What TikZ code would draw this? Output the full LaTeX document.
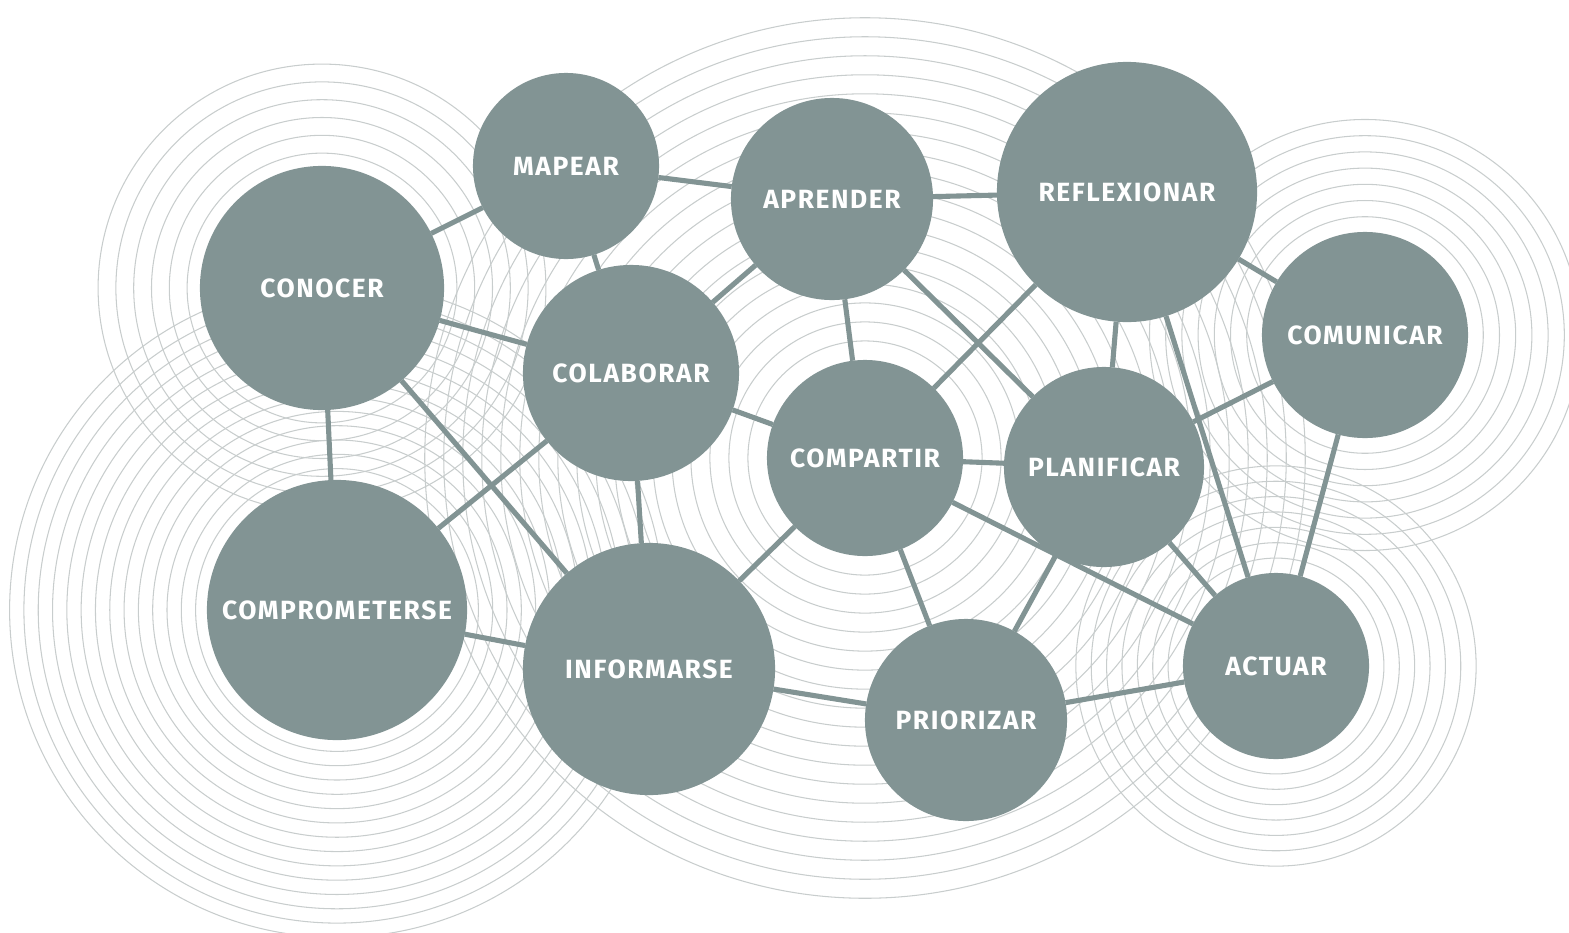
\documentclass[tikz,border=0pt]{standalone}
\usepackage{fontspec}
\setmainfont{Fira Sans}[LetterSpace=6]
\usetikzlibrary{backgrounds}
\definecolor{nodegrey}{RGB}{130,148,148}
\definecolor{ringgrey}{RGB}{200,205,205}
\tikzset{
	concept/.style={circle, fill=nodegrey, text=white, inner sep=0pt, outer sep=0pt,
		font=\bfseries\fontsize{7.5}{8}\selectfont},
	link/.style={draw=nodegrey, line width=1.45pt},
	ring/.style={draw=ringgrey, line width=0.3pt},
}

\begin{document}
\begin{tikzpicture}[x=0.01cm, y=-0.01cm]% {{{ red de conceptos
	\useasboundingbox (0,0) rectangle (1569,933);

	\node[concept, minimum size=1.86cm] (mapear) at (566,166) {MAPEAR};
	\node[concept, minimum size=2.02cm] (aprender) at (832,199) {APRENDER};
	\node[concept, minimum size=2.60cm] (reflexionar) at (1127,192) {REFLEXIONAR};
	\node[concept, minimum size=2.44cm] (conocer) at (322,288) {CONOCER};
	\node[concept, minimum size=2.16cm] (colaborar) at (631,373) {COLABORAR};
	\node[concept, minimum size=2.06cm] (comunicar) at (1365,335) {COMUNICAR};
	\node[concept, minimum size=1.96cm] (compartir) at (865,458) {COMPARTIR};
	\node[concept, minimum size=2.00cm] (planificar) at (1104,467) {PLANIFICAR};
	\node[concept, minimum size=2.60cm] (comprometerse) at (337,610) {COMPROMETERSE};
	\node[concept, minimum size=2.52cm] (informarse) at (649,669) {INFORMARSE};
	\node[concept, minimum size=2.02cm] (priorizar) at (966,720) {PRIORIZAR};
	\node[concept, minimum size=1.86cm] (actuar) at (1276,666) {ACTUAR};

	\foreach \a/\b in {conocer/mapear, mapear/aprender, mapear/colaborar, conocer/colaborar,
		aprender/reflexionar, aprender/colaborar, aprender/compartir, aprender/planificar,
		reflexionar/compartir, reflexionar/planificar, reflexionar/comunicar, reflexionar/actuar,
		comunicar/planificar, comunicar/actuar, conocer/comprometerse, conocer/informarse,
		colaborar/comprometerse, colaborar/informarse, colaborar/compartir, compartir/planificar,
		compartir/informarse, compartir/priorizar, compartir/actuar, planificar/priorizar,
		planificar/actuar, comprometerse/informarse, informarse/priorizar, priorizar/actuar}
		\draw[link] (\a) -- (\b);

	% ondas
	\begin{scope}[on background layer]
		\foreach \k in {1,...,6}
			\draw[ring] (conocer.center) circle[radius=1.17cm+\k*0.178cm];
		\foreach \k in {1,...,14}
			\draw[ring] (comprometerse.center) circle[radius=1.27cm+\k*0.143cm];
		\foreach \k in {1,...,18}
			\draw[ring] (compartir.center) circle[radius=0.98cm+\k*0.19cm];
		\foreach \k in {1,...,7}
			\draw[ring] (comunicar.center) circle[radius=1.02cm+\k*0.162cm];
		\foreach \k in {1,...,7}
			\draw[ring] (actuar.center) circle[radius=0.925cm+\k*0.1536cm];
	\end{scope}
\end{tikzpicture}% }}}
\end{document}
